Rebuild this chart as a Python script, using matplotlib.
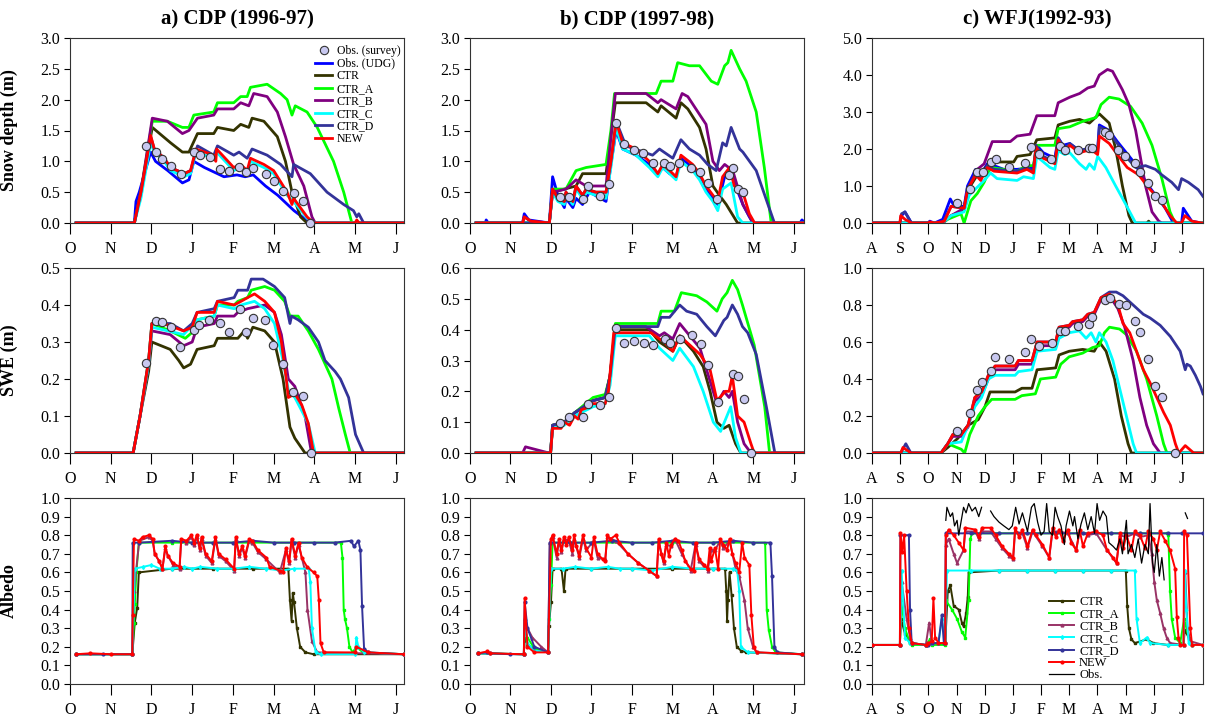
import numpy as np
import matplotlib
matplotlib.use("Agg")
import matplotlib.pyplot as plt
from matplotlib.ticker import FormatStrFormatter
from matplotlib.lines import Line2D

plt.rcParams['font.family'] = ['Liberation Serif', 'DejaVu Serif']

# time axis: months since first tick (O for CDP, A for WFJ)
months_cdp = ['O', 'N', 'D', 'J', 'F', 'M', 'A', 'M', 'J']
months_wfj = ['A', 'S', 'O', 'N', 'D', 'J', 'F', 'M', 'A', 'M', 'J', 'J']
nan = float('nan')

# ---------------- snow depth (m) ----------------
sd_a_udg = [(0.15,0),(1.58,0),(1.62,0.35),(1.70,0.5),(1.98,1.15),(2.10,1.0),(2.40,0.85),(2.76,0.65),(2.92,0.7),(3.04,1.0),(3.30,0.9),(3.78,0.75),(4.10,0.78),(4.30,0.75),(4.50,0.78),(4.80,0.6),(5.10,0.45),(5.50,0.2),(5.70,0.1),(5.86,0),(8.2,0)]
sd_a_ctr = [(0.15,0),(1.58,0),(1.74,0.5),(2.02,1.55),(2.47,1.3),(2.76,1.15),(2.92,1.15),(3.13,1.45),(3.53,1.45),(3.62,1.55),(4.02,1.5),(4.19,1.6),(4.39,1.55),(4.47,1.7),(4.76,1.65),(5.09,1.4),(5.29,1.0),(5.45,0.5),(5.66,0.1),(5.82,0),(8.2,0)]
sd_a_ctra = [(0.15,0),(1.58,0),(1.74,0.5),(2.02,1.65),(2.39,1.65),(2.76,1.55),(2.92,1.55),(3.04,1.75),(3.53,1.8),(3.62,1.95),(4.02,1.95),(4.19,2.05),(4.35,2.05),(4.43,2.2),(4.84,2.25),(5.17,2.1),(5.33,2.0),(5.45,1.75),(5.53,1.9),(5.82,1.8),(6.07,1.55),(6.47,1.0),(6.72,0.5),(6.92,0),(8.2,0)]
sd_a_ctrb = [(0.15,0),(1.58,0),(1.74,0.5),(2.02,1.7),(2.39,1.65),(2.76,1.45),(2.92,1.5),(3.13,1.7),(3.53,1.75),(3.62,1.85),(4.02,1.85),(4.19,1.95),(4.39,1.9),(4.51,2.1),(4.84,2.05),(5.09,1.8),(5.29,1.4),(5.49,0.95),(5.74,0.6),(5.94,0.1),(6.02,0),(8.2,0)]
sd_a_ctrc = [(0.15,0),(1.58,0),(1.74,0.4),(1.98,1.3),(2.07,1.15),(2.31,1.0),(2.47,0.85),(2.80,0.75),(2.96,0.8),(3.09,1.15),(3.53,1.05),(3.60,1.15),(4.02,0.85),(4.19,0.9),(4.35,0.8),(4.43,1.0),(4.76,0.9),(5.00,0.8),(5.33,0.45),(5.49,0.35),(5.82,0.08),(5.98,0),(8.2,0)]
sd_a_ctrd = [(0.15,0),(1.58,0),(1.74,0.5),(1.98,1.4),(2.07,1.2),(2.31,1.05),(2.47,0.9),(2.80,0.8),(2.96,0.85),(3.13,1.25),(3.53,1.1),(3.62,1.25),(4.02,1.1),(4.15,1.15),(4.35,1.05),(4.47,1.2),(4.84,1.1),(5.17,0.95),(5.45,0.75),(5.49,0.95),(5.90,0.8),(6.31,0.5),(6.72,0.3),(6.96,0.2),(7.04,0.1),(7.09,0.15),(7.21,0),(8.2,0)]
sd_a_new = [(0.15,0),(1.58,0),(1.74,0.5),(1.98,1.42),(2.07,1.2),(2.31,1.05),(2.47,0.9),(2.80,0.8),(2.96,0.85),(3.09,1.2),(3.53,1.1),(3.58,1.0),(3.60,1.2),(4.02,0.9),(4.19,0.95),(4.35,0.85),(4.43,1.05),(4.76,0.95),(5.00,0.85),(5.33,0.5),(5.45,0.3),(5.49,0.4),(5.82,0.1),(5.98,0),(7.0,0),(7.04,0.05),(7.1,0),(8.2,0)]
sd_a_survey = [(1.86,1.25),(2.11,1.15),(2.27,1.03),(2.49,0.92),(2.72,0.79),(3.04,1.15),(3.18,1.11),(3.43,1.07),(3.68,0.88),(3.91,0.84),(4.16,0.91),(4.33,0.83),(4.49,0.9),(4.82,0.8),(5.0,0.68),(5.23,0.52),(5.49,0.49),(5.71,0.35),(5.9,0.0)]

sd_b_udg = [(0.15,0),(0.38,0),(0.40,0.05),(0.45,0),(1.30,0),(1.34,0.15),(1.45,0.05),(1.96,0),(2.04,0.75),(2.17,0.45),(2.33,0.25),(2.37,0.4),(2.54,0.25),(2.62,0.4),(2.78,0.3),(2.95,0.5),(3.36,0.35),(3.48,0.95),(3.61,1.5),(3.77,1.2),(4.10,1.1),(4.43,0.95),(4.64,0.8),(4.76,0.9),(4.93,0.8),(5.09,0.75),(5.21,1.05),(5.50,0.9),(5.67,0.75),(5.83,0.55),(6.00,0.4),(6.12,0.3),(6.29,0.75),(6.41,0.85),(6.53,0.65),(6.74,0.3),(6.90,0.1),(6.99,0),(8.15,0),(8.20,0.05),(8.25,0.02)]
sd_b_ctr = [(0.15,0),(1.96,0),(2.04,0.5),(2.62,0.6),(2.78,0.8),(3.36,0.8),(3.48,1.4),(3.59,1.95),(4.35,1.95),(4.64,1.8),(4.72,1.9),(5.09,1.7),(5.21,1.95),(5.38,1.85),(5.67,1.55),(5.83,1.2),(6.00,0.6),(6.16,0.45),(6.33,0.3),(6.61,0),(8.25,0)]
sd_b_ctra = [(0.15,0),(1.96,0),(2.04,0.55),(2.37,0.55),(2.62,0.85),(2.87,0.9),(3.36,0.95),(3.48,1.5),(3.57,2.1),(4.60,2.1),(4.72,2.3),(5.01,2.3),(5.13,2.6),(5.42,2.55),(5.67,2.55),(5.96,2.3),(6.12,2.25),(6.29,2.55),(6.37,2.6),(6.45,2.8),(6.66,2.5),(6.82,2.3),(7.07,1.8),(7.27,0.9),(7.44,0),(8.25,0)]
sd_b_ctrb = [(0.15,0),(1.30,0),(1.34,0.1),(1.50,0.03),(1.96,0),(2.04,0.5),(2.37,0.55),(2.62,0.7),(2.87,0.6),(3.36,0.6),(3.48,1.4),(3.59,2.1),(4.35,2.1),(4.64,1.95),(4.72,2.0),(5.09,1.85),(5.24,2.1),(5.38,2.05),(5.63,1.8),(5.83,1.6),(6.00,1.0),(6.16,0.85),(6.29,0.95),(6.49,0.85),(6.74,0.3),(6.99,0),(8.25,0)]
sd_b_ctrc = [(0.15,0),(1.96,0),(2.04,0.5),(2.17,0.35),(2.33,0.3),(2.37,0.45),(2.54,0.3),(2.62,0.55),(2.78,0.4),(2.87,0.5),(3.11,0.45),(3.36,0.4),(3.48,0.9),(3.61,1.55),(3.77,1.2),(4.10,1.1),(4.43,0.9),(4.64,0.75),(4.76,0.9),(4.93,0.8),(5.09,0.7),(5.21,1.0),(5.50,0.85),(5.67,0.7),(5.83,0.5),(6.00,0.35),(6.12,0.2),(6.24,0.55),(6.45,0.65),(6.61,0.1),(6.74,0),(8.25,0)]
sd_b_ctrd = [(0.15,0),(1.96,0),(2.04,0.55),(2.17,0.4),(2.33,0.35),(2.37,0.5),(2.54,0.35),(2.62,0.6),(2.78,0.45),(2.87,0.55),(3.11,0.5),(3.36,0.5),(3.48,1.0),(3.61,1.65),(3.85,1.25),(4.51,1.1),(4.68,1.2),(5.01,1.05),(5.21,1.35),(5.42,1.2),(5.67,1.1),(5.87,0.95),(6.08,0.85),(6.24,1.3),(6.33,1.25),(6.45,1.55),(6.66,1.2),(6.74,1.15),(7.07,0.85),(7.36,0.3),(7.52,0),(8.25,0)]
sd_b_new = [(0.15,0),(1.30,0),(1.34,0.1),(1.50,0.03),(1.96,0),(2.04,0.55),(2.17,0.4),(2.33,0.35),(2.37,0.5),(2.54,0.35),(2.62,0.6),(2.78,0.45),(2.87,0.55),(3.11,0.5),(3.36,0.5),(3.48,1.0),(3.61,1.65),(3.77,1.3),(4.10,1.2),(4.43,1.0),(4.64,0.8),(4.76,0.95),(4.93,0.85),(5.09,0.75),(5.21,1.1),(5.50,0.95),(5.67,0.8),(5.83,0.6),(6.00,0.45),(6.12,0.35),(6.24,0.75),(6.41,0.9),(6.53,0.6),(6.74,0.5),(6.90,0.15),(7.03,0),(8.25,0)]
sd_b_survey = [(2.22,0.42),(2.45,0.42),(2.78,0.39),(2.91,0.6),(3.2,0.44),(3.43,0.63),(3.61,1.62),(3.81,1.28),(4.04,1.19),(4.28,1.13),(4.51,0.97),(4.8,0.98),(4.94,0.93),(5.16,0.97),(5.46,0.9),(5.68,0.83),(5.87,0.65),(6.1,0.39),(6.39,0.78),(6.49,0.9),(6.61,0.55),(6.75,0.5)]

sd_c_udg = [(0,0),(0.99,0),(1.05,0.2),(1.17,0.3),(1.40,0),(1.99,0),(2.05,0.05),(2.11,0.03),(2.22,0),(2.51,0.1),(2.78,0.65),(2.92,0.45),(3.27,0.45),(3.39,1.0),(3.68,1.45),(3.86,1.3),(4.09,1.6),(4.33,1.55),(4.68,1.45),(5.15,1.45),(5.73,1.5),(5.85,2.1),(6.08,1.9),(6.49,1.75),(6.61,2.3),(6.78,2.1),(7.02,2.15),(7.37,1.95),(7.60,2.0),(7.84,2.05),(8.01,2.0),(8.07,2.65),(8.42,2.5),(8.71,2.2),(9.24,1.7),(9.53,1.35),(9.82,1.0),(10.12,0.7),(10.41,0.4),(10.70,0),(10.99,0),(11.05,0.4),(11.35,0.05),(11.70,0),(11.75,0)]
sd_c_ctr = [(0,0),(2.51,0),(2.81,0.2),(3.27,0.35),(3.45,0.95),(3.74,1.3),(3.98,1.45),(4.21,1.65),(5.03,1.65),(5.15,1.8),(5.61,1.85),(5.85,2.25),(6.49,2.3),(6.61,2.65),(7.02,2.75),(7.37,2.8),(7.72,2.7),(8.07,2.95),(8.42,2.7),(8.65,2.0),(8.89,1.0),(9.12,0.2),(9.24,0),(9.76,0),(9.82,0.05),(9.88,0),(11.75,0)]
sd_c_ctra = [(0,0),(2.51,0),(2.69,0.1),(3.16,0.25),(3.27,0.0),(3.51,0.6),(3.74,0.8),(3.98,1.1),(4.21,1.5),(4.68,1.45),(5.15,1.4),(5.50,1.55),(5.73,1.55),(5.85,2.1),(6.49,2.1),(6.61,2.55),(7.02,2.6),(7.49,2.75),(7.95,2.85),(8.13,3.2),(8.42,3.4),(8.77,3.35),(9.18,3.15),(9.59,2.7),(9.94,2.1),(10.29,1.2),(10.58,0.3),(10.76,0),(11.75,0)]
sd_c_ctrb = [(0,0),(2.51,0),(2.81,0.2),(3.27,0.4),(3.45,1.0),(3.74,1.45),(3.98,1.6),(4.27,2.2),(4.91,2.2),(5.15,2.35),(5.61,2.4),(5.85,2.9),(6.49,2.9),(6.61,3.25),(7.02,3.4),(7.37,3.5),(7.66,3.65),(7.89,3.7),(8.07,4.0),(8.36,4.15),(8.54,4.1),(8.89,3.6),(9.12,3.2),(9.36,2.5),(9.71,1.0),(9.94,0.3),(10.18,0.05),(10.29,0),(11.75,0)]
sd_c_ctrc = [(0,0),(2.51,0),(2.81,0.2),(3.27,0.3),(3.45,0.75),(3.98,1.15),(4.21,1.35),(4.44,1.2),(5.15,1.15),(5.38,1.25),(5.73,1.2),(5.85,1.8),(6.32,1.5),(6.49,1.45),(6.61,1.95),(6.84,1.85),(7.02,1.9),(7.37,1.6),(7.60,1.45),(7.72,1.6),(7.89,1.45),(8.01,1.8),(8.30,1.5),(8.65,1.0),(9.01,0.5),(9.36,0),(11.75,0)]
sd_c_ctrd = [(0,0),(0.99,0),(1.05,0.25),(1.17,0.3),(1.40,0),(2.51,0),(2.81,0.45),(3.27,0.4),(3.39,0.9),(3.68,1.35),(3.86,1.2),(4.09,1.55),(4.33,1.45),(5.15,1.4),(5.50,1.5),(5.73,1.4),(5.82,2.1),(6.08,1.8),(6.49,1.65),(6.61,2.3),(6.84,2.0),(7.02,2.15),(7.37,1.95),(7.60,2.0),(7.84,2.0),(8.01,1.9),(8.07,2.6),(8.42,2.45),(8.71,2.15),(9.01,1.8),(9.36,1.5),(9.71,1.55),(10.06,1.45),(10.29,1.3),(10.64,1.1),(10.88,0.9),(10.99,1.2),(11.23,1.1),(11.58,0.9),(11.75,0.72)]
sd_c_new = [(0,0),(0.99,0),(1.02,0.2),(1.17,0.1),(1.40,0),(1.99,0),(2.05,0.03),(2.22,0),(2.57,0.05),(2.81,0.45),(3.27,0.4),(3.39,0.9),(3.68,1.3),(3.86,1.15),(4.09,1.5),(4.33,1.4),(5.15,1.35),(5.50,1.45),(5.73,1.35),(5.82,2.05),(6.08,1.75),(6.49,1.6),(6.61,2.25),(6.84,1.95),(7.02,2.1),(7.37,1.9),(7.60,1.95),(7.84,1.95),(8.01,1.85),(8.07,2.35),(8.42,2.15),(8.71,1.85),(9.06,1.5),(9.47,1.3),(9.82,0.95),(9.94,0.85),(10.29,0.55),(10.58,0.2),(10.82,0),(10.99,0),(11.11,0.2),(11.35,0.05),(11.70,0),(11.75,0)]
sd_c_survey = [(3.02,0.53),(3.47,0.93),(3.71,1.39),(3.94,1.37),(4.21,1.64),(4.39,1.72),(4.88,1.52),(5.42,1.63),(5.65,2.05),(5.93,1.87),(6.37,1.72),(6.69,2.09),(6.84,1.96),(7.33,1.98),(7.7,2.04),(7.81,2.04),(8.28,2.45),(8.42,2.39),(8.75,1.96),(8.98,1.8),(9.32,1.62),(9.53,1.39),(9.79,1.07),(10.04,0.73),(10.29,0.62)]

# ---------------- SWE (m) ----------------
swe_a_ctr = [(0.15,0),(1.55,0),(1.72,0.1),(1.93,0.22),(2.01,0.3),(2.46,0.28),(2.67,0.25),(2.79,0.23),(2.96,0.24),(3.12,0.28),(3.54,0.29),(3.62,0.31),(4.12,0.31),(4.28,0.33),(4.36,0.31),(4.49,0.34),(4.78,0.33),(5.02,0.3),(5.23,0.2),(5.40,0.07),(5.52,0.04),(5.77,0),(8.2,0)]
swe_a_ctra = [(0.15,0),(1.55,0),(1.72,0.1),(1.93,0.25),(2.01,0.35),(2.46,0.33),(2.83,0.31),(3.04,0.33),(3.12,0.36),(3.54,0.37),(3.62,0.4),(4.03,0.4),(4.12,0.41),(4.36,0.42),(4.45,0.44),(4.78,0.45),(5.02,0.44),(5.27,0.41),(5.40,0.37),(5.60,0.37),(5.85,0.33),(6.10,0.28),(6.43,0.2),(6.60,0.12),(6.76,0.05),(6.88,0),(8.2,0)]
swe_a_ctrb = [(0.15,0),(1.55,0),(1.72,0.1),(1.93,0.24),(2.01,0.33),(2.46,0.32),(2.79,0.29),(3.00,0.3),(3.12,0.34),(3.54,0.35),(3.62,0.37),(4.03,0.37),(4.12,0.38),(4.36,0.39),(4.78,0.4),(5.02,0.38),(5.19,0.32),(5.36,0.2),(5.52,0.18),(5.77,0.1),(5.93,0),(8.2,0)]
swe_a_ctrc = [(0.15,0),(1.55,0),(1.72,0.1),(1.93,0.24),(2.01,0.34),(2.79,0.32),(3.12,0.36),(3.54,0.37),(3.62,0.4),(4.03,0.39),(4.20,0.4),(4.53,0.41),(4.78,0.39),(5.02,0.35),(5.23,0.25),(5.36,0.17),(5.52,0.15),(5.85,0.08),(6.02,0),(8.2,0)]
swe_a_ctrd = [(0.15,0),(1.55,0),(1.72,0.1),(1.93,0.25),(2.01,0.35),(2.46,0.35),(2.79,0.33),(3.00,0.35),(3.12,0.38),(3.54,0.39),(3.62,0.41),(4.03,0.42),(4.12,0.44),(4.36,0.44),(4.45,0.47),(4.74,0.47),(5.02,0.45),(5.27,0.42),(5.40,0.35),(5.44,0.37),(5.60,0.36),(5.85,0.34),(6.10,0.3),(6.26,0.25),(6.51,0.22),(6.64,0.2),(6.84,0.15),(7.01,0.05),(7.13,0.02),(7.21,0),(8.2,0)]
swe_a_new = [(0.15,0),(1.55,0),(1.72,0.1),(1.93,0.25),(2.01,0.35),(2.30,0.35),(2.79,0.33),(3.00,0.34),(3.12,0.38),(3.54,0.38),(3.62,0.41),(4.03,0.4),(4.20,0.41),(4.36,0.42),(4.53,0.43),(4.78,0.41),(5.02,0.38),(5.19,0.3),(5.31,0.2),(5.36,0.15),(5.52,0.16),(5.69,0.13),(5.85,0.08),(5.98,0),(8.2,0)]
swe_a_survey = [(1.87,0.243),(2.11,0.358),(2.27,0.354),(2.48,0.341),(2.71,0.286),(3.04,0.332),(3.16,0.347),(3.42,0.36),(3.69,0.351),(3.91,0.327),(4.17,0.39),(4.31,0.327),(4.49,0.365),(4.79,0.359),(4.99,0.293),(5.23,0.241),(5.48,0.165),(5.71,0.155),(5.91,0.0)]

swe_b_ctr = [(0.15,0),(1.99,0),(2.04,0.09),(2.33,0.1),(2.58,0.13),(3.04,0.17),(3.34,0.18),(3.46,0.25),(3.59,0.4),(4.43,0.4),(4.68,0.36),(5.01,0.33),(5.18,0.38),(5.52,0.33),(5.76,0.28),(5.93,0.2),(6.10,0.1),(6.27,0.08),(6.40,0.09),(6.56,0.03),(6.69,0),(8.25,0)]
swe_b_ctra = [(0.15,0),(1.99,0),(2.04,0.09),(2.33,0.1),(2.58,0.13),(3.04,0.18),(3.34,0.19),(3.46,0.25),(3.59,0.42),(4.64,0.42),(4.72,0.46),(5.05,0.46),(5.22,0.52),(5.60,0.51),(5.85,0.49),(6.10,0.46),(6.23,0.5),(6.35,0.52),(6.48,0.56),(6.61,0.53),(6.73,0.48),(7.02,0.35),(7.28,0.15),(7.40,0),(8.25,0)]
swe_b_ctrb = [(0.15,0),(1.30,0),(1.37,0.02),(1.95,0),(1.99,0),(2.04,0.09),(2.33,0.1),(2.58,0.13),(3.04,0.17),(3.34,0.18),(3.46,0.25),(3.59,0.41),(4.34,0.41),(4.68,0.38),(4.80,0.39),(5.01,0.37),(5.18,0.42),(5.43,0.38),(5.68,0.34),(5.89,0.25),(6.10,0.16),(6.27,0.2),(6.40,0.18),(6.48,0.2),(6.61,0.1),(6.77,0.03),(6.94,0),(8.25,0)]
swe_b_ctrc = [(0.15,0),(1.99,0),(2.04,0.08),(2.33,0.09),(2.58,0.12),(3.04,0.15),(3.34,0.16),(3.46,0.22),(3.59,0.38),(4.43,0.38),(4.68,0.34),(5.01,0.3),(5.18,0.34),(5.52,0.28),(5.76,0.2),(6.01,0.1),(6.19,0.07),(6.44,0.15),(6.56,0.05),(6.69,0),(8.25,0)]
swe_b_ctrd = [(0.15,0),(1.99,0),(2.04,0.09),(2.33,0.1),(2.58,0.13),(3.04,0.17),(3.34,0.18),(3.46,0.25),(3.59,0.41),(4.64,0.41),(4.72,0.44),(4.93,0.44),(5.18,0.48),(5.35,0.46),(5.60,0.45),(5.85,0.41),(6.06,0.38),(6.27,0.43),(6.35,0.44),(6.48,0.48),(6.61,0.45),(6.73,0.41),(6.86,0.39),(7.07,0.32),(7.32,0.15),(7.53,0),(8.25,0)]
swe_b_new = [(0.15,0),(1.99,0),(2.04,0.08),(2.25,0.08),(2.33,0.1),(2.46,0.09),(2.58,0.12),(2.67,0.11),(2.75,0.14),(2.96,0.15),(3.00,0.16),(3.34,0.16),(3.42,0.2),(3.55,0.39),(4.47,0.39),(4.68,0.37),(4.80,0.36),(5.01,0.33),(5.18,0.38),(5.43,0.35),(5.68,0.32),(5.93,0.27),(6.10,0.17),(6.31,0.2),(6.40,0.2),(6.48,0.25),(6.61,0.12),(6.77,0.1),(6.94,0.03),(7.02,0),(8.25,0)]
swe_b_survey = [(2.23,0.096),(2.45,0.118),(2.79,0.117),(2.91,0.158),(3.2,0.155),(3.43,0.183),(3.61,0.406),(3.81,0.358),(4.05,0.362),(4.31,0.356),(4.53,0.35),(4.82,0.369),(4.95,0.357),(5.18,0.369),(5.48,0.382),(5.7,0.355),(5.89,0.284),(6.12,0.165),(6.49,0.256),(6.62,0.249),(6.76,0.175),(6.94,0.0)]

swe_c_ctr = [(0,0),(2.45,0),(2.69,0.03),(3.05,0.08),(3.41,0.15),(3.77,0.18),(4.01,0.25),(4.19,0.33),(5.08,0.33),(5.32,0.35),(5.68,0.35),(5.86,0.45),(6.52,0.46),(6.64,0.53),(7.00,0.55),(7.48,0.56),(7.89,0.55),(8.07,0.6),(8.31,0.55),(8.61,0.4),(8.85,0.2),(9.09,0.05),(9.21,0),(11.75,0)]
swe_c_ctra = [(0,0),(2.45,0),(2.69,0.05),(3.17,0.02),(3.29,0.0),(3.47,0.1),(3.77,0.2),(4.01,0.25),(4.25,0.29),(5.08,0.29),(5.32,0.31),(5.80,0.32),(5.98,0.4),(6.52,0.41),(6.70,0.48),(7.00,0.52),(7.48,0.54),(7.83,0.57),(8.07,0.58),(8.25,0.65),(8.43,0.68),(8.79,0.67),(9.03,0.64),(9.39,0.55),(9.75,0.4),(10.11,0.2),(10.35,0.05),(10.47,0),(11.75,0)]
swe_c_ctrb = [(0,0),(2.45,0),(2.69,0.05),(2.87,0.09),(3.17,0.09),(3.41,0.14),(3.65,0.28),(3.89,0.31),(4.13,0.4),(4.37,0.45),(5.08,0.45),(5.20,0.48),(5.68,0.48),(5.86,0.58),(6.52,0.58),(6.64,0.67),(7.00,0.68),(7.12,0.7),(7.48,0.71),(7.66,0.74),(7.89,0.75),(8.13,0.83),(8.43,0.85),(8.73,0.78),(8.97,0.68),(9.27,0.5),(9.51,0.3),(9.75,0.15),(9.99,0.05),(10.23,0),(11.75,0)]
swe_c_ctrc = [(0,0),(2.45,0),(2.69,0.05),(3.17,0.06),(3.41,0.15),(3.65,0.25),(3.89,0.3),(4.13,0.4),(4.37,0.42),(5.08,0.42),(5.20,0.44),(5.68,0.45),(5.86,0.55),(6.52,0.56),(6.64,0.62),(7.00,0.65),(7.36,0.66),(7.60,0.62),(7.78,0.65),(7.95,0.6),(8.07,0.65),(8.31,0.6),(8.55,0.5),(8.79,0.35),(9.03,0.2),(9.27,0.05),(9.39,0),(11.75,0)]
swe_c_ctrd = [(0,0),(1.02,0),(1.20,0.05),(1.38,0),(2.45,0),(2.69,0.05),(2.87,0.1),(3.17,0.1),(3.41,0.15),(3.65,0.3),(3.89,0.33),(4.13,0.42),(4.37,0.47),(5.08,0.47),(5.20,0.5),(5.68,0.5),(5.86,0.6),(6.52,0.6),(6.64,0.68),(7.00,0.69),(7.12,0.71),(7.48,0.72),(7.66,0.75),(7.89,0.76),(8.13,0.84),(8.43,0.87),(8.67,0.87),(8.91,0.85),(9.27,0.8),(9.63,0.75),(9.87,0.73),(10.23,0.69),(10.59,0.63),(10.94,0.55),(11.12,0.45),(11.18,0.48),(11.30,0.47),(11.48,0.42),(11.66,0.36),(11.75,0.32)]
swe_c_new = [(0,0),(1.02,0),(1.10,0.03),(1.38,0),(2.45,0),(2.69,0.05),(2.87,0.1),(3.17,0.1),(3.41,0.15),(3.65,0.3),(3.89,0.33),(4.13,0.42),(4.37,0.47),(5.08,0.47),(5.20,0.5),(5.68,0.5),(5.86,0.6),(6.52,0.6),(6.64,0.68),(7.00,0.69),(7.12,0.71),(7.48,0.72),(7.66,0.75),(7.89,0.76),(8.13,0.84),(8.43,0.86),(8.73,0.8),(8.91,0.7),(9.15,0.65),(9.39,0.55),(9.63,0.45),(9.87,0.38),(10.11,0.3),(10.35,0.22),(10.59,0.15),(10.77,0.05),(10.89,0),(11.12,0.04),(11.42,0),(11.75,0)]
swe_c_survey = [(3.03,0.12),(3.48,0.215),(3.71,0.341),(3.92,0.382),(4.23,0.443),(4.38,0.517),(4.88,0.508),(5.42,0.548),(5.65,0.616),(5.94,0.576),(6.38,0.594),(6.67,0.661),(6.84,0.661),(7.32,0.688),(7.72,0.697),(7.8,0.733),(8.27,0.829),(8.45,0.838),(8.76,0.808),(9.0,0.802),(9.33,0.713),(9.53,0.655),(9.81,0.506),(10.05,0.363),(10.3,0.302),(10.74,0.0)]

# ---------------- albedo ----------------
alb_a_ctr = [(0.15,0.16),(1.53,0.16),(1.59,0.33),(1.65,0.41),(1.69,0.6),(2.5,0.62),(3.5,0.62),(4.5,0.62),(5.36,0.62),(5.40,0.45),(5.44,0.34),(5.47,0.49),(5.50,0.44),(5.57,0.3),(5.65,0.2),(5.78,0.17),(5.98,0.16),(8.2,0.16)]
alb_a_ctra = [(0.15,0.16),(1.53,0.16),(1.57,0.33),(1.59,0.43),(1.63,0.6),(1.69,0.76),(2.5,0.76),(3.5,0.76),(4.5,0.76),(5.5,0.76),(6.65,0.76),(6.69,0.68),(6.72,0.4),(6.75,0.35),(6.80,0.3),(6.86,0.2),(6.94,0.17),(7.03,0.2),(7.19,0.17),(8.2,0.16)]
alb_a_ctrb = [(0.15,0.16),(1.53,0.16),(1.57,0.5),(1.7,0.77),(1.94,0.79),(2.03,0.77),(2.08,0.7),(2.19,0.66),(2.27,0.62),(2.34,0.73),(2.40,0.69),(2.53,0.64),(2.69,0.62),(2.73,0.77),(2.86,0.76),(2.98,0.79),(3.05,0.75),(3.11,0.79),(3.19,0.72),(3.23,0.78),(3.33,0.69),(3.48,0.65),(3.57,0.78),(3.65,0.69),(3.82,0.66),(4.03,0.61),(4.07,0.78),(4.15,0.69),(4.23,0.73),(4.30,0.68),(4.40,0.77),(4.48,0.76),(4.61,0.71),(4.82,0.67),(5.15,0.6),(5.30,0.72),(5.38,0.65),(5.44,0.77),(5.53,0.68),(5.61,0.75),(5.78,0.6),(5.83,0.4),(5.94,0.23),(6.07,0.17),(8.2,0.16)]
alb_a_ctrc = [(0.15,0.16),(1.53,0.16),(1.59,0.62),(1.8,0.63),(2.0,0.64),(2.2,0.62),(2.5,0.62),(2.8,0.63),(3.0,0.62),(3.2,0.63),(3.6,0.62),(4.0,0.62),(4.4,0.63),(4.8,0.62),(5.2,0.61),(5.5,0.62),(5.86,0.62),(5.90,0.55),(5.94,0.3),(6.03,0.17),(6.15,0.16),(7.0,0.16),(7.03,0.25),(7.08,0.2),(7.23,0.17),(8.2,0.16)]
alb_a_ctrd = [(0.15,0.16),(0.8,0.16),(1.53,0.16),(1.54,0.76),(1.7,0.76),(2.5,0.77),(3.0,0.76),(3.5,0.76),(4.0,0.76),(4.5,0.77),(5.0,0.76),(5.5,0.76),(6.0,0.76),(6.5,0.76),(6.9,0.77),(6.97,0.74),(7.08,0.77),(7.13,0.72),(7.17,0.42),(7.22,0.19),(7.32,0.17),(8.2,0.16)]
alb_a_new = [(0.15,0.16),(0.5,0.165),(1.0,0.16),(1.53,0.16),(1.54,0.37),(1.57,0.78),(1.69,0.77),(1.78,0.79),(1.94,0.8),(2.03,0.78),(2.08,0.7),(2.19,0.66),(2.27,0.62),(2.34,0.74),(2.40,0.69),(2.53,0.65),(2.69,0.63),(2.73,0.78),(2.86,0.77),(2.98,0.8),(3.05,0.76),(3.11,0.8),(3.19,0.73),(3.23,0.79),(3.33,0.7),(3.48,0.66),(3.57,0.79),(3.65,0.7),(3.82,0.67),(4.03,0.62),(4.07,0.79),(4.15,0.7),(4.23,0.74),(4.30,0.69),(4.40,0.78),(4.48,0.77),(4.61,0.72),(4.82,0.68),(4.90,0.63),(5.15,0.61),(5.23,0.6),(5.30,0.73),(5.38,0.66),(5.44,0.78),(5.53,0.69),(5.61,0.76),(5.69,0.68),(5.82,0.63),(5.98,0.6),(6.07,0.58),(6.11,0.45),(6.15,0.22),(6.23,0.17),(7.0,0.17),(7.03,0.2),(7.32,0.17),(8.2,0.16)]

alb_b_ctr = [(0.2,0.165),(1.33,0.16),(1.35,0.25),(1.42,0.21),(1.59,0.19),(1.93,0.17),(1.95,0.31),(2.00,0.44),(2.04,0.62),(2.26,0.62),(2.32,0.5),(2.36,0.62),(3.0,0.62),(4.0,0.62),(5.0,0.62),(6.0,0.62),(6.30,0.62),(6.33,0.5),(6.35,0.34),(6.37,0.45),(6.41,0.6),(6.46,0.48),(6.52,0.3),(6.59,0.2),(6.69,0.18),(6.82,0.17),(8.19,0.16)]
alb_b_ctra = [(0.2,0.165),(1.33,0.16),(1.35,0.29),(1.42,0.25),(1.59,0.19),(1.93,0.17),(1.95,0.35),(2.00,0.53),(2.04,0.76),(3.0,0.76),(4.0,0.76),(5.0,0.76),(6.0,0.76),(7.0,0.76),(7.29,0.76),(7.33,0.4),(7.38,0.29),(7.46,0.2),(7.55,0.17),(8.19,0.16)]
alb_b_ctrb = [(0.2,0.165),(1.33,0.16),(1.35,0.35),(1.42,0.3),(1.54,0.25),(1.76,0.2),(1.93,0.17),(1.97,0.76),(2.04,0.79),(2.14,0.68),(2.20,0.77),(2.26,0.71),(2.32,0.78),(2.44,0.77),(2.53,0.7),(2.57,0.78),(2.70,0.68),(2.79,0.78),(2.87,0.72),(3.06,0.77),(3.15,0.68),(3.34,0.67),(3.39,0.79),(3.60,0.77),(3.90,0.7),(4.16,0.65),(4.42,0.61),(4.61,0.58),(4.66,0.77),(4.78,0.65),(4.85,0.75),(4.97,0.74),(5.06,0.78),(5.23,0.7),(5.45,0.61),(5.57,0.75),(5.66,0.66),(5.87,0.61),(5.96,0.72),(6.05,0.72),(6.18,0.77),(6.26,0.73),(6.41,0.77),(6.56,0.62),(6.65,0.58),(6.78,0.45),(6.86,0.3),(6.99,0.2),(7.08,0.17),(8.19,0.16)]
alb_b_ctrc = [(0.2,0.165),(1.33,0.16),(1.35,0.35),(1.42,0.22),(1.59,0.18),(1.93,0.17),(2.00,0.62),(2.3,0.62),(2.6,0.63),(3.0,0.62),(3.4,0.63),(3.7,0.62),(4.0,0.62),(4.5,0.61),(5.0,0.63),(5.5,0.62),(6.0,0.62),(6.5,0.62),(6.60,0.61),(6.65,0.5),(6.69,0.2),(6.86,0.17),(8.19,0.16)]
alb_b_ctrd = [(0.2,0.165),(0.43,0.17),(0.5,0.165),(1.0,0.16),(1.33,0.16),(1.35,0.44),(1.42,0.3),(1.59,0.2),(1.93,0.17),(1.97,0.76),(2.5,0.76),(3.0,0.76),(3.5,0.77),(4.0,0.76),(4.5,0.76),(5.0,0.77),(5.5,0.76),(6.0,0.76),(6.5,0.77),(7.0,0.76),(7.42,0.76),(7.46,0.58),(7.52,0.2),(7.59,0.17),(8.19,0.16)]
alb_b_new = [(0.2,0.165),(0.43,0.175),(0.5,0.165),(1.33,0.16),(1.35,0.46),(1.42,0.2),(1.59,0.17),(1.93,0.17),(2.00,0.78),(2.04,0.8),(2.14,0.7),(2.20,0.78),(2.26,0.72),(2.32,0.79),(2.38,0.75),(2.44,0.79),(2.53,0.72),(2.57,0.8),(2.63,0.74),(2.70,0.69),(2.79,0.8),(2.87,0.73),(3.00,0.68),(3.06,0.79),(3.15,0.7),(3.28,0.67),(3.34,0.66),(3.39,0.8),(3.47,0.78),(3.60,0.8),(3.69,0.76),(3.90,0.7),(4.16,0.65),(4.42,0.61),(4.61,0.58),(4.66,0.78),(4.72,0.7),(4.78,0.66),(4.85,0.76),(4.91,0.69),(4.97,0.75),(5.06,0.78),(5.15,0.77),(5.23,0.72),(5.32,0.66),(5.45,0.62),(5.53,0.61),(5.57,0.76),(5.66,0.67),(5.79,0.64),(5.87,0.62),(5.92,0.73),(5.96,0.66),(6.05,0.73),(6.13,0.62),(6.18,0.78),(6.26,0.75),(6.35,0.72),(6.41,0.78),(6.48,0.7),(6.56,0.65),(6.65,0.6),(6.72,0.76),(6.78,0.68),(6.90,0.64),(6.95,0.37),(7.01,0.2),(7.08,0.17),(8.19,0.16)]

alb_c_ctr = [(0,0.21),(0.99,0.21),(1.03,0.35),(1.17,0.27),(1.35,0.22),(1.91,0.21),(2.60,0.22),(2.69,0.5),(2.78,0.53),(2.90,0.42),(3.08,0.4),(3.19,0.33),(3.25,0.31),(3.34,0.38),(3.40,0.47),(3.43,0.6),(4.5,0.61),(5.5,0.61),(6.5,0.61),(7.5,0.61),(8.5,0.61),(9.01,0.61),(9.06,0.42),(9.12,0.3),(9.21,0.24),(9.33,0.22),(9.75,0.24),(9.99,0.22),(10.5,0.21),(11.06,0.21),(11.10,0.29),(11.24,0.25),(11.36,0.21),(11.75,0.21)]
alb_c_ctra = [(0,0.21),(0.99,0.21),(1.03,0.45),(1.17,0.3),(1.35,0.22),(1.41,0.21),(1.91,0.21),(2.06,0.24),(2.12,0.21),(2.60,0.21),(2.62,0.45),(2.84,0.4),(3.02,0.35),(3.19,0.28),(3.31,0.25),(3.43,0.45),(3.49,0.78),(3.55,0.81),(4.5,0.81),(5.5,0.81),(6.5,0.81),(7.5,0.81),(8.5,0.81),(9.5,0.81),(10.46,0.81),(10.52,0.8),(10.58,0.5),(10.64,0.35),(10.76,0.25),(10.94,0.22),(11.08,0.35),(11.24,0.25),(11.36,0.21),(11.75,0.21)]
alb_c_ctrb = [(0,0.21),(0.99,0.21),(1.05,0.55),(1.23,0.35),(1.35,0.25),(1.41,0.22),(1.91,0.21),(2.03,0.33),(2.12,0.22),(2.60,0.22),(2.62,0.75),(2.72,0.78),(2.90,0.7),(3.02,0.65),(3.25,0.72),(3.31,0.82),(3.67,0.82),(3.79,0.78),(3.91,0.82),(4.21,0.82),(4.39,0.78),(4.62,0.73),(4.86,0.69),(5.01,0.67),(5.08,0.82),(5.34,0.81),(5.52,0.73),(5.70,0.82),(6.05,0.74),(6.29,0.68),(6.41,0.82),(6.65,0.82),(6.95,0.81),(7.25,0.72),(7.37,0.82),(7.66,0.8),(7.96,0.81),(8.34,0.72),(8.68,0.65),(8.80,0.8),(9.03,0.79),(9.33,0.81),(9.51,0.79),(9.81,0.8),(9.93,0.7),(10.02,0.55),(10.11,0.45),(10.23,0.38),(10.35,0.3),(10.46,0.25),(10.58,0.22),(11.06,0.21),(11.12,0.6),(11.20,0.3),(11.30,0.23),(11.75,0.21)]
alb_c_ctrc = [(0,0.21),(0.99,0.21),(1.05,0.61),(1.17,0.25),(1.35,0.22),(1.91,0.21),(2.12,0.22),(2.36,0.22),(2.48,0.35),(2.60,0.22),(2.66,0.61),(3.5,0.61),(4.5,0.61),(5.5,0.61),(6.5,0.61),(7.5,0.61),(8.5,0.61),(9.33,0.61),(9.39,0.35),(9.51,0.22),(9.75,0.25),(9.87,0.22),(10.5,0.21),(11.06,0.21),(11.10,0.61),(11.16,0.4),(11.24,0.22),(11.36,0.21),(11.75,0.21)]
alb_c_ctrd = [(0,0.21),(0.99,0.21),(1.01,0.8),(1.31,0.8),(1.35,0.4),(1.41,0.22),(1.91,0.21),(2.00,0.21),(2.12,0.22),(2.36,0.22),(2.48,0.37),(2.55,0.22),(2.60,0.22),(2.62,0.81),(3.5,0.81),(4.5,0.81),(5.5,0.81),(6.5,0.81),(7.5,0.81),(8.5,0.81),(9.5,0.81),(10.5,0.81),(11.0,0.81),(11.75,0.81)]
alb_c_new = [(0,0.21),(0.99,0.21),(1.01,0.81),(1.08,0.71),(1.14,0.8),(1.23,0.5),(1.31,0.3),(1.41,0.22),(1.91,0.21),(2.00,0.22),(2.12,0.23),(2.18,0.46),(2.24,0.25),(2.36,0.22),(2.60,0.22),(2.62,0.8),(2.72,0.83),(2.90,0.8),(3.08,0.76),(3.25,0.72),(3.31,0.84),(3.67,0.83),(3.79,0.79),(3.91,0.84),(4.21,0.84),(4.39,0.8),(4.62,0.74),(4.86,0.7),(5.01,0.68),(5.08,0.84),(5.22,0.79),(5.34,0.83),(5.52,0.74),(5.70,0.83),(5.82,0.8),(6.05,0.75),(6.29,0.68),(6.41,0.84),(6.53,0.79),(6.65,0.83),(6.77,0.77),(6.95,0.83),(7.07,0.76),(7.25,0.72),(7.37,0.83),(7.49,0.74),(7.66,0.81),(7.96,0.82),(8.20,0.8),(8.34,0.72),(8.56,0.68),(8.68,0.65),(8.80,0.81),(8.92,0.73),(9.03,0.8),(9.21,0.72),(9.33,0.82),(9.51,0.8),(9.69,0.73),(9.81,0.82),(9.99,0.78),(10.11,0.72),(10.23,0.82),(10.41,0.77),(10.58,0.72),(10.76,0.62),(10.82,0.36),(10.88,0.25),(10.94,0.21),(11.06,0.21),(11.08,0.82),(11.18,0.8),(11.30,0.3),(11.36,0.21),(11.75,0.21)]
alb_c_obs = [(2.62,0.88),(2.66,0.95),(2.78,0.9),(2.86,0.92),(2.93,0.85),(3.02,0.88),(3.08,0.8),(3.17,0.88),(3.25,0.95),(3.34,0.92),(3.43,0.97),(3.55,0.93),(3.67,0.95),(3.79,0.9),(3.89,0.95),(3.9,nan),(4.21,0.93),(4.33,0.9),(4.51,0.87),(4.68,0.85),(4.86,0.83),(4.98,0.85),(5.10,0.95),(5.22,0.86),(5.34,0.92),(5.52,0.82),(5.66,0.95),(5.76,0.97),(5.88,0.87),(6.00,0.8),(6.11,0.82),(6.20,0.97),(6.29,0.82),(6.41,0.8),(6.50,0.95),(6.59,0.9),(6.71,0.85),(6.83,0.75),(6.89,0.85),(7.01,0.93),(7.13,0.85),(7.19,0.9),(7.31,0.78),(7.42,0.86),(7.54,0.92),(7.66,0.83),(7.78,0.9),(7.90,0.81),(7.99,0.97),(8.08,0.88),(8.20,0.93),(8.32,0.9),(8.41,0.76),(8.56,0.74),(8.68,0.72),(8.80,0.78),(8.89,0.7),(8.97,0.8),(9.03,0.88),(9.09,0.7),(9.21,0.75),(9.33,0.68),(9.45,0.78),(9.57,0.65),(9.69,0.75),(9.81,0.7),(9.87,0.97),(9.96,0.65),(10.02,0.6),(10.11,0.75),(10.20,0.58),(10.29,0.68),(10.37,0.56),(10.4,nan),(11.12,0.92),(11.20,0.89)]

run_names = ['CTR', 'CTR_A', 'CTR_B', 'CTR_C', 'CTR_D', 'NEW']
run_colors = ['#333300', '#00ff00', '#800080', '#00ffff', '#333399', '#ff0000']
alb_colors = ['#333300', '#00ff00', '#993366', '#00ffff', '#333399', '#ff0000']
alb_markers = ['s', 's', '^', 'd', 'o', 'o']
udg_color = '#0000ff'
survey_face = '#c8c8f0'


def xy(pairs):
    return [p[0] for p in pairs], [p[1] for p in pairs]


def setup(ax, months, xmax, ymax, ystep):
    ax.set_xlim(0, xmax)
    ax.set_ylim(0, ymax)
    ax.set_xticks(range(len(months)))
    ax.set_xticklabels(months)
    ax.set_yticks(np.arange(0, ymax + 1e-9, ystep))
    ax.yaxis.set_major_formatter(FormatStrFormatter('%.1f'))
    ax.tick_params(axis='x', direction='out', length=8, width=0.8, pad=5, labelsize=11.5)
    ax.tick_params(axis='y', direction='out', length=4, width=0.8, pad=3, labelsize=11.5)
    ax.tick_params(top=False, right=False)
    for s in ax.spines.values():
        s.set_linewidth(0.8)
        s.set_color('#333333')


def plot_snow(ax, udg, runs, survey):
    if udg is not None:
        t, v = xy(udg)
        ax.plot(t, v, color=udg_color, lw=2.0, zorder=2)
    for pairs, c in zip(runs, run_colors):
        t, v = xy(pairs)
        ax.plot(t, v, color=c, lw=2.0, zorder=3)
    t, v = xy(survey)
    ax.plot(t, v, 'o', ms=6, mfc=survey_face, mec='#333333', mew=0.8, zorder=5, clip_on=False)


def plot_albedo(ax, runs):
    lines = []
    for pairs, c, m in zip(runs, alb_colors, alb_markers):
        t, v = xy(pairs)
        ln, = ax.plot(t, v, color=c, lw=1.4, marker=m, ms=2, zorder=3)
        lines.append(ln)
    return lines


fig = plt.figure(figsize=(12.13, 7.27), dpi=100)
W, H = 1213.0, 727.0
cols = [(70, 404), (470, 804), (872, 1203)]
rows = [(38, 223), (268, 453), (498, 684)]
axes = [[fig.add_axes([l / W, 1 - b / H, (r - l) / W, (b - t) / H]) for (l, r) in cols] for (t, b) in rows]

# row 1: snow depth
plot_snow(axes[0][0], sd_a_udg, [sd_a_ctr, sd_a_ctra, sd_a_ctrb, sd_a_ctrc, sd_a_ctrd, sd_a_new], sd_a_survey)
plot_snow(axes[0][1], sd_b_udg, [sd_b_ctr, sd_b_ctra, sd_b_ctrb, sd_b_ctrc, sd_b_ctrd, sd_b_new], sd_b_survey)
plot_snow(axes[0][2], sd_c_udg, [sd_c_ctr, sd_c_ctra, sd_c_ctrb, sd_c_ctrc, sd_c_ctrd, sd_c_new], sd_c_survey)
setup(axes[0][0], months_cdp, 8.2, 3.0, 0.5)
setup(axes[0][1], months_cdp, 8.25, 3.0, 0.5)
setup(axes[0][2], months_wfj, 11.75, 5.0, 1.0)

# row 2: SWE
plot_snow(axes[1][0], None, [swe_a_ctr, swe_a_ctra, swe_a_ctrb, swe_a_ctrc, swe_a_ctrd, swe_a_new], swe_a_survey)
plot_snow(axes[1][1], None, [swe_b_ctr, swe_b_ctra, swe_b_ctrb, swe_b_ctrc, swe_b_ctrd, swe_b_new], swe_b_survey)
plot_snow(axes[1][2], None, [swe_c_ctr, swe_c_ctra, swe_c_ctrb, swe_c_ctrc, swe_c_ctrd, swe_c_new], swe_c_survey)
setup(axes[1][0], months_cdp, 8.2, 0.5, 0.1)
setup(axes[1][1], months_cdp, 8.25, 0.6, 0.1)
setup(axes[1][2], months_wfj, 11.75, 1.0, 0.2)

# row 3: albedo
plot_albedo(axes[2][0], [alb_a_ctr, alb_a_ctra, alb_a_ctrb, alb_a_ctrc, alb_a_ctrd, alb_a_new])
plot_albedo(axes[2][1], [alb_b_ctr, alb_b_ctra, alb_b_ctrb, alb_b_ctrc, alb_b_ctrd, alb_b_new])
alb_lines = plot_albedo(axes[2][2], [alb_c_ctr, alb_c_ctra, alb_c_ctrb, alb_c_ctrc, alb_c_ctrd, alb_c_new])
t, v = xy(alb_c_obs)
obs_line, = axes[2][2].plot(t, v, color='black', lw=0.9, zorder=4)
setup(axes[2][0], months_cdp, 8.2, 1.0, 0.1)
setup(axes[2][1], months_cdp, 8.25, 1.0, 0.1)
setup(axes[2][2], months_wfj, 11.75, 1.0, 0.1)

# titles and y labels
titles = ['a) CDP (1996-97)', 'b) CDP (1997-98)', 'c) WFJ(1992-93)']
for ax, title in zip(axes[0], titles):
    ax.set_title(title, fontsize=15, fontweight='bold', pad=10)
ylabels = ['Snow depth (m)', 'SWE (m)', 'Albedo']
for row, lab in zip(axes, ylabels):
    row[0].set_ylabel(lab, fontsize=13, fontweight='bold')
    row[0].yaxis.set_label_coords(-0.155, 0.5)

# legend, top-left panel
handles = [Line2D([], [], ls='none', marker='o', ms=6, mfc=survey_face, mec='#333333', mew=0.8),
           Line2D([], [], color=udg_color, lw=2)]
handles += [Line2D([], [], color=c, lw=2) for c in run_colors]
labels = ['Obs. (survey)', 'Obs. (UDG)'] + run_names
axes[0][0].legend(handles, labels, loc='upper right', bbox_to_anchor=(1.01, 1.0), frameon=False,
                  fontsize=8.5, handlelength=1.4, handletextpad=0.4, labelspacing=0.05, borderaxespad=0.2)

# legend, albedo WFJ
axes[2][2].legend(alb_lines + [obs_line], run_names + ['Obs.'], loc='upper left',
                  bbox_to_anchor=(0.52, 0.5), frameon=False, fontsize=9, handlelength=2.0,
                  handletextpad=0.4, labelspacing=0.02, borderaxespad=0.0)

fig.savefig('out.png', dpi=100)
